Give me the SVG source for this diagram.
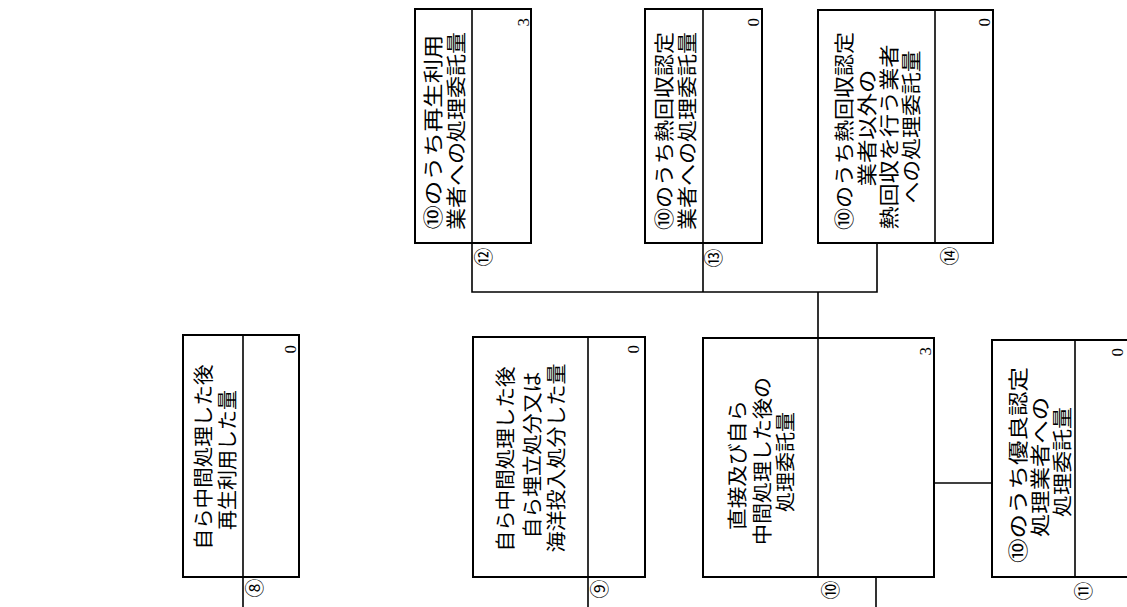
<svg xmlns="http://www.w3.org/2000/svg" width="1127" height="607" viewBox="0 0 1127 607">
<style>
.bx{fill:#fff;stroke:#000;stroke-width:2}
.dv{stroke:#000;stroke-width:1.6;fill:none}
.cn{stroke:#000;stroke-width:1.6;fill:none}
.t{font-family:"Noto Sans CJK JP","Noto Sans",sans-serif;font-size:20px;fill:#000;text-anchor:middle;dominant-baseline:central}
.v{font-family:"Liberation Serif",serif;font-size:17px;fill:#000;text-anchor:end;dominant-baseline:central}
.n{font-family:"Noto Sans CJK JP","Noto Sans",sans-serif;font-size:19px;fill:#000;text-anchor:middle;dominant-baseline:central}
</style>
<rect width="1127" height="607" fill="#fff"/>
<g id="connectors">
<path class="cn" d="M472,243V292H877V243M703,243V292M818,292V338"/>
<path class="cn" d="M934,483H992"/>
<path class="cn" d="M243,577V607M588,577V607M876,577V607"/>
</g>
<g id="node8">
<rect class="bx" x="183" y="335" width="116" height="242"/>
<line class="dv" x1="243" y1="335" x2="243" y2="577"/>
<text class="t" transform="translate(202,457) rotate(-90)" textLength="185" lengthAdjust="spacingAndGlyphs">自ら中間処理した後</text>
<text class="t" transform="translate(226,460) rotate(-90)" textLength="140" lengthAdjust="spacingAndGlyphs">再生利用した量</text>
<text class="v" transform="translate(290,345) rotate(-90)">0</text>
<text class="n" transform="translate(253,588) rotate(-90)">⑧</text>
</g>
<g id="node9">
<rect class="bx" x="473" y="337" width="172" height="240"/>
<line class="dv" x1="588" y1="337" x2="588" y2="577"/>
<text class="t" transform="translate(504,459) rotate(-90)" textLength="185" lengthAdjust="spacingAndGlyphs">自ら中間処理した後</text>
<text class="t" transform="translate(531,455) rotate(-90)" textLength="167" lengthAdjust="spacingAndGlyphs">自ら埋立処分又は</text>
<text class="t" transform="translate(555,458) rotate(-90)" textLength="189" lengthAdjust="spacingAndGlyphs">海洋投入処分した量</text>
<text class="v" transform="translate(633,345) rotate(-90)">0</text>
<text class="n" transform="translate(598,589) rotate(-90)">⑨</text>
</g>
<g id="node10">
<rect class="bx" x="703" y="338" width="231" height="239"/>
<line class="dv" x1="818" y1="338" x2="818" y2="577"/>
<text class="t" transform="translate(736,465) rotate(-90)" textLength="130" lengthAdjust="spacingAndGlyphs">直接及び自ら</text>
<text class="t" transform="translate(761,461) rotate(-90)" textLength="168" lengthAdjust="spacingAndGlyphs">中間処理した後の</text>
<text class="t" transform="translate(784,462) rotate(-90)" textLength="100" lengthAdjust="spacingAndGlyphs">処理委託量</text>
<text class="v" transform="translate(925,347) rotate(-90)">3</text>
<text class="n" transform="translate(829,590) rotate(-90)">⑩</text>
</g>
<g id="node11">
<rect class="bx" x="992" y="340" width="150" height="237"/>
<line class="dv" x1="1075" y1="340" x2="1075" y2="577"/>
<text class="t" transform="translate(1017,465) rotate(-90)" textLength="196" lengthAdjust="spacingAndGlyphs">⑩のうち優良認定</text>
<text class="t" transform="translate(1039,467) rotate(-90)" textLength="140" lengthAdjust="spacingAndGlyphs">処理業者への</text>
<text class="t" transform="translate(1061,462) rotate(-90)" textLength="110" lengthAdjust="spacingAndGlyphs">処理委託量</text>
<text class="v" transform="translate(1117,348) rotate(-90)">0</text>
<text class="n" transform="translate(1082,591) rotate(-90)">⑪</text>
</g>
<g id="node12">
<rect class="bx" x="415" y="9" width="116" height="234"/>
<line class="dv" x1="472" y1="9" x2="472" y2="243"/>
<text class="t" transform="translate(432,132) rotate(-90)" textLength="195" lengthAdjust="spacingAndGlyphs">⑩のうち再生利用</text>
<text class="t" transform="translate(455,131) rotate(-90)" textLength="198" lengthAdjust="spacingAndGlyphs">業者への処理委託量</text>
<text class="v" transform="translate(523,18) rotate(-90)">3</text>
<text class="n" transform="translate(482,257) rotate(-90)">⑫</text>
</g>
<g id="node13">
<rect class="bx" x="645" y="9" width="117" height="234"/>
<line class="dv" x1="703" y1="9" x2="703" y2="243"/>
<text class="t" transform="translate(663,131) rotate(-90)" textLength="198" lengthAdjust="spacingAndGlyphs">⑩のうち熱回収認定</text>
<text class="t" transform="translate(686,131) rotate(-90)" textLength="198" lengthAdjust="spacingAndGlyphs">業者への処理委託量</text>
<text class="v" transform="translate(753,18) rotate(-90)">0</text>
<text class="n" transform="translate(712,258) rotate(-90)">⑬</text>
</g>
<g id="node14">
<rect class="bx" x="818" y="10" width="175" height="233"/>
<line class="dv" x1="935" y1="10" x2="935" y2="243"/>
<text class="t" transform="translate(843,131) rotate(-90)" textLength="198" lengthAdjust="spacingAndGlyphs">⑩のうち熱回収認定</text>
<text class="t" transform="translate(866,128) rotate(-90)" textLength="117" lengthAdjust="spacingAndGlyphs">業者以外の</text>
<text class="t" transform="translate(888,137) rotate(-90)" textLength="185" lengthAdjust="spacingAndGlyphs">熱回収を行う業者</text>
<text class="t" transform="translate(910,127) rotate(-90)" textLength="153" lengthAdjust="spacingAndGlyphs">への処理委託量</text>
<text class="v" transform="translate(984,18) rotate(-90)">0</text>
<text class="n" transform="translate(948,256) rotate(-90)">⑭</text>
</g>
</svg>
